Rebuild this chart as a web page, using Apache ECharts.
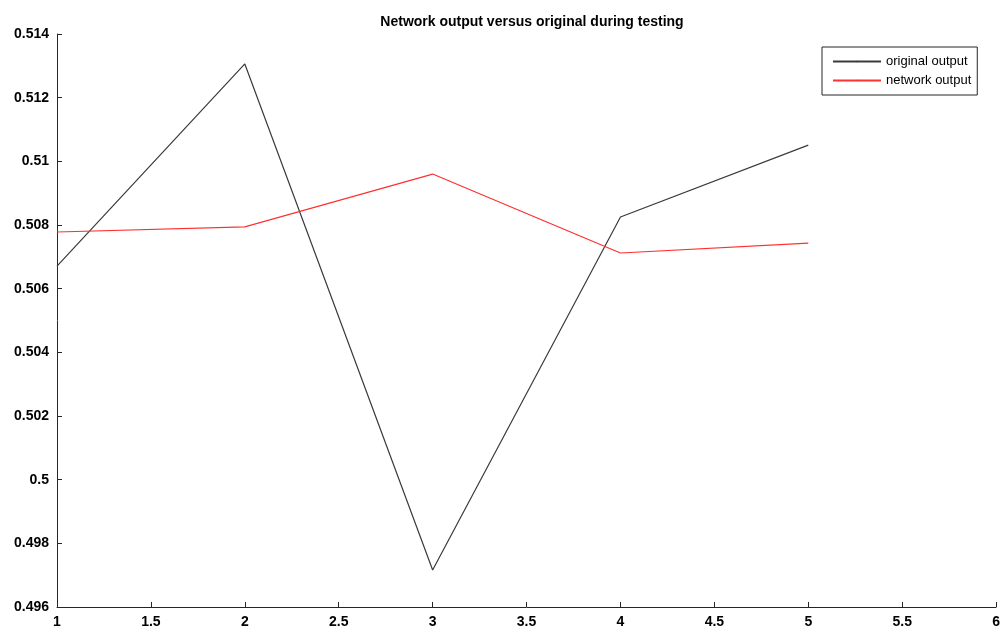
<!DOCTYPE html>
<html>
<head>
<meta charset="utf-8">
<script src="https://cdn.jsdelivr.net/npm/echarts@6/dist/echarts.min.js"></script>
<style>html,body{margin:0;padding:0;background:#fff}#c{width:1003px;height:637px}</style>
</head>
<body>
<div id="c"></div>
<script>
const xValues = [1, 2, 3, 4, 5];
const originalOutput = [0.50671, 0.51306, 0.49716, 0.50825, 0.51051];
const networkOutput = [0.50778, 0.50794, 0.50960, 0.50712, 0.50743];
const seriesNames = ['original output', 'network output'];
const titleText = 'Network output versus original during testing';

const chart = echarts.init(document.getElementById('c'));
const fontFam = '"Liberation Sans Narrow", "Liberation Sans", Arial, sans-serif';
chart.setOption({
  animation: false,
  title: {
    text: titleText, left: 527, top: 10, textAlign: 'center',
    textStyle: {fontSize: 14, fontWeight: 'bold', color: '#000', fontFamily: fontFam}
  },
  legend: {
    orient: 'vertical', left: 822, top: 47,
    data: seriesNames,
    itemWidth: 48, itemHeight: 2, itemGap: 6,
    padding: [8, 6, 8, 10],
    borderColor: '#262626', borderWidth: 1,
    textStyle: {fontSize: 13, color: '#000', fontFamily: '"Liberation Sans", Arial, sans-serif'}
  },
  grid: {left: 57, right: 6, top: 34, bottom: 30, containLabel: false},
  xAxis: {
    type: 'value', min: 1, max: 6, interval: 0.5,
    axisLine: {show: true, lineStyle: {color: '#262626'}},
    axisTick: {show: true, inside: true, length: 5, lineStyle: {color: '#262626'}},
    splitLine: {show: false},
    axisLabel: {fontSize: 14, fontWeight: 'bold', color: '#000', fontFamily: fontFam, margin: 8}
  },
  yAxis: {
    type: 'value', min: 0.496, max: 0.514, interval: 0.002,
    axisLine: {show: true, lineStyle: {color: '#262626'}},
    axisTick: {show: true, inside: true, length: 5, lineStyle: {color: '#262626'}},
    splitLine: {show: false},
    axisLabel: {fontSize: 14, fontWeight: 'bold', color: '#000', fontFamily: fontFam, margin: 8,
      formatter: v => String(parseFloat(v.toFixed(3)))}
  },
  series: [
    {name: seriesNames[0], type: 'line', symbol: 'none', data: xValues.map((x, i) => [x, originalOutput[i]]),
     lineStyle: {color: '#3a3a3a', width: 1.2}, itemStyle: {color: '#3a3a3a'}},
    {name: seriesNames[1], type: 'line', symbol: 'none', data: xValues.map((x, i) => [x, networkOutput[i]]),
     lineStyle: {color: '#ff3030', width: 1.2}, itemStyle: {color: '#ff3030'}}
  ]
});
</script>
</body>
</html>
